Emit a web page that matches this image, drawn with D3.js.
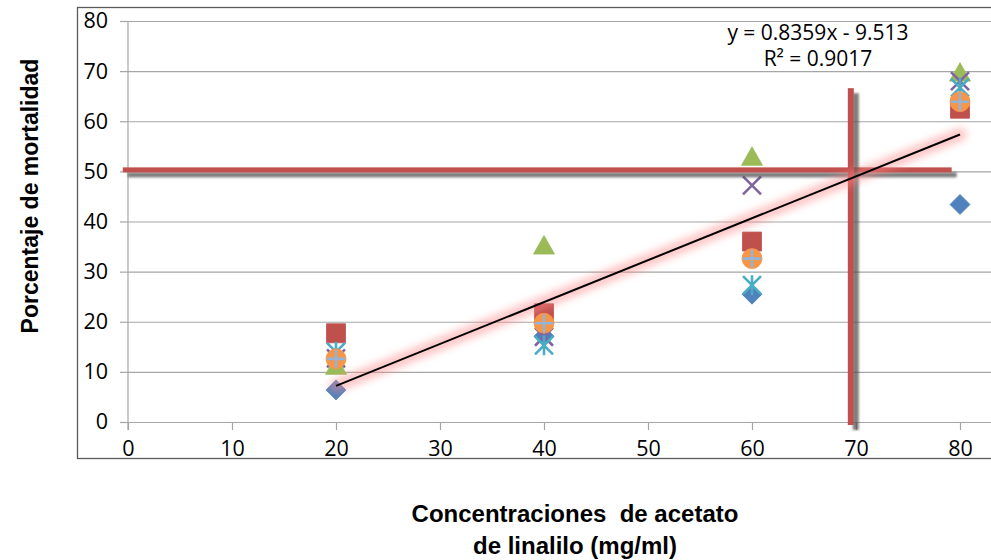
<!DOCTYPE html>
<html>
<head>
<meta charset="utf-8">
<script src="https://cdn.jsdelivr.net/npm/d3@7/dist/d3.min.js"></script>
<style>
  body { margin: 0; background: #fff; }
  .tick text { font-family: "Open Sans", sans-serif; font-size: 21.5px; fill: #000; }
  .title { font-family: "Liberation Sans", Arial, sans-serif; font-weight: bold; font-size: 23px; fill: #000; }
  .eq { font-family: "Open Sans", sans-serif; font-size: 21px; fill: #000; }
</style>
</head>
<body>
<div id="chart"></div>
<script>
var w = 991, h = 560;

// concentrations (mg/ml)
var concentrations = [20, 40, 60, 80];

// mortality (%) per replicate series
var seriesDiamond  = [6.4, 17.1, 25.5, 43.4];
var seriesSquare   = [17.7, 21.7, 36.0, 62.5];
var seriesTriangle = [11.2, 35.2, 52.9, 69.7];
var seriesCross    = [12.7, 17.0, 47.2, 68.0];
var seriesStar     = [14.0, 15.3, 27.3, 66.7];
var seriesCircle   = [12.6, 19.7, 32.6, 63.9];
var seriesPlus     = [12.6, 19.7, 32.6, 63.9];

var xTicks = [0, 10, 20, 30, 40, 50, 60, 70, 80];
var yTicks = [0, 10, 20, 30, 40, 50, 60, 70, 80];

// linear trend (from equation shown)
var trendSlope = 0.8359, trendIntercept = -9.513, trendR2 = 0.9017;
var trendRange = [20, 80];

// hand drawn LC50 guide lines
var hGuide = { y: 50.3, x0: -0.5, x1: 79.2 };
var vGuide = { x: 69.5, y0: -0.6, y1: 66.6 };

var svg = d3.select("#chart").append("svg").attr("width", w).attr("height", h);

var defs = svg.append("defs");
defs.append("filter").attr("id", "glow").attr("filterUnits", "userSpaceOnUse")
  .attr("x", 0).attr("y", 0).attr("width", w).attr("height", h)
  .append("feGaussianBlur").attr("stdDeviation", 3.5);
defs.append("filter").attr("id", "shadow").attr("filterUnits", "userSpaceOnUse")
  .attr("x", 0).attr("y", 0).attr("width", w).attr("height", h)
  .append("feDropShadow").attr("dx", 5).attr("dy", 5).attr("stdDeviation", 0.8)
  .attr("flood-color", "#444").attr("flood-opacity", 0.7);

var x = d3.scaleLinear().domain([0, 80]).range([128, 960]);
var y = d3.scaleLinear().domain([0, 80]).range([422, 21]);

// outer frame
svg.append("rect").attr("x", 77.5).attr("y", 7.5).attr("width", 930).attr("height", 451)
  .attr("fill", "none").attr("stroke", "#5a5a5a").attr("stroke-width", 1.3);

// gridlines
var grid = svg.append("g").attr("transform", "translate(" + x(0) + ",0)")
  .call(d3.axisRight(y).tickValues(yTicks).tickSize(991 - x(0)).tickFormat(""));
grid.select(".domain").remove();
grid.selectAll("line").attr("stroke", "#a6a6a6").attr("stroke-width", 1.2);

// y axis
var yAxis = svg.append("g").attr("transform", "translate(" + x(0) + ",0)")
  .call(d3.axisLeft(y).tickValues(yTicks).tickSize(8).tickPadding(12).tickSizeOuter(0));
yAxis.select(".domain").attr("stroke", "#a6a6a6").attr("stroke-width", 1.2)
  .attr("d", "M0," + y(80) + "V" + (y(0) + 8));
yAxis.selectAll("line").attr("stroke", "#a6a6a6").attr("stroke-width", 1.2);

// x axis
var xAxis = svg.append("g").attr("transform", "translate(0," + y(0) + ")")
  .call(d3.axisBottom(x).tickValues(xTicks).tickSize(8).tickPadding(11).tickSizeOuter(0));
xAxis.select(".domain").remove();
xAxis.selectAll("line").attr("stroke", "#a6a6a6").attr("stroke-width", 1.2);

// markers
function markerPath(type) {
  switch (type) {
    case "diamond": return "M0,-10L10,0L0,10L-10,0Z";
    case "square": return "M-9.5,-9.5H9.5V9.5H-9.5Z";
    case "triangle": return "M0,-10L10.5,8.5H-10.5Z";
    case "cross": return "M-9,-9L9,9M9,-9L-9,9";
    case "star": return "M-9,-9L9,9M9,-9L-9,9M0,-10V10";
    case "circle": return "M10,0A10,10 0 1,1 -10,0A10,10 0 1,1 10,0Z";
    case "plus": return "M-9,0H9M0,-9V9";
  }
}

var series = [
  { values: seriesDiamond,  type: "diamond",  color: "#4F81BD", fill: true },
  { values: seriesSquare,   type: "square",   color: "#C0504D", fill: true },
  { values: seriesTriangle, type: "triangle", color: "#9BBB59", fill: true },
  { values: seriesCross,    type: "cross",    color: "#8064A2", fill: false },
  { values: seriesStar,     type: "star",     color: "#4BACC6", fill: false },
  { values: seriesCircle,   type: "circle",   color: "#F79646", fill: true },
  { values: seriesPlus,     type: "plus",     color: "#95B3D7", fill: false }
];

series.forEach(function(s) {
  svg.append("g").selectAll("path")
    .data(s.values)
    .enter().append("path")
    .attr("transform", function(d, i) { return "translate(" + x(concentrations[i]) + "," + y(d) + ")"; })
    .attr("d", markerPath(s.type))
    .attr("fill", s.fill ? s.color : "none")
    .attr("stroke", s.color)
    .attr("stroke-width", s.fill ? 0.8 : 2.6);
});

// guide lines
svg.append("rect")
  .attr("x", x(hGuide.x0)).attr("width", x(hGuide.x1) - x(hGuide.x0))
  .attr("y", y(hGuide.y) - 2.5).attr("height", 5)
  .attr("fill", "#C0504D")
  .attr("filter", "url(#shadow)");
svg.append("rect")
  .attr("x", x(vGuide.x) - 3).attr("width", 6)
  .attr("y", y(vGuide.y1)).attr("height", y(vGuide.y0) - y(vGuide.y1))
  .attr("fill", "#C0504D")
  .attr("filter", "url(#shadow)");

// trendline with glow
var trend = trendRange.map(function(v) { return [x(v), y(trendSlope * v + trendIntercept)]; });
svg.append("line")
  .attr("x1", trend[0][0]).attr("y1", trend[0][1]).attr("x2", trend[1][0]).attr("y2", trend[1][1])
  .attr("stroke", "#ff8a8a").attr("stroke-width", 14).attr("stroke-opacity", 0.45)
  .attr("stroke-linecap", "round").attr("filter", "url(#glow)");
svg.append("line")
  .attr("x1", trend[0][0]).attr("y1", trend[0][1]).attr("x2", trend[1][0]).attr("y2", trend[1][1])
  .attr("stroke", "#000").attr("stroke-width", 2);

// equation label
svg.append("text").attr("class", "eq").attr("x", 818).attr("y", 40).attr("text-anchor", "middle")
  .text("y = " + trendSlope + "x - " + Math.abs(trendIntercept));
svg.append("text").attr("class", "eq").attr("x", 818).attr("y", 66).attr("text-anchor", "middle")
  .text("R² = " + trendR2);

// axis titles
svg.append("text").attr("class", "title").attr("text-anchor", "middle")
  .attr("transform", "translate(38,196) rotate(-90)")
  .text("Porcentaje de mortalidad");
svg.append("text").attr("class", "title").attr("text-anchor", "middle")
  .attr("x", 575).attr("y", 522).text("Concentraciones  de acetato")
  .attr("xml:space", "preserve").style("white-space", "pre").style("font-size", "24px");
svg.append("text").attr("class", "title").attr("text-anchor", "middle")
  .attr("x", 575).attr("y", 554).text("de linalilo (mg/ml)").style("font-size", "24px");
</script>
</body>
</html>
